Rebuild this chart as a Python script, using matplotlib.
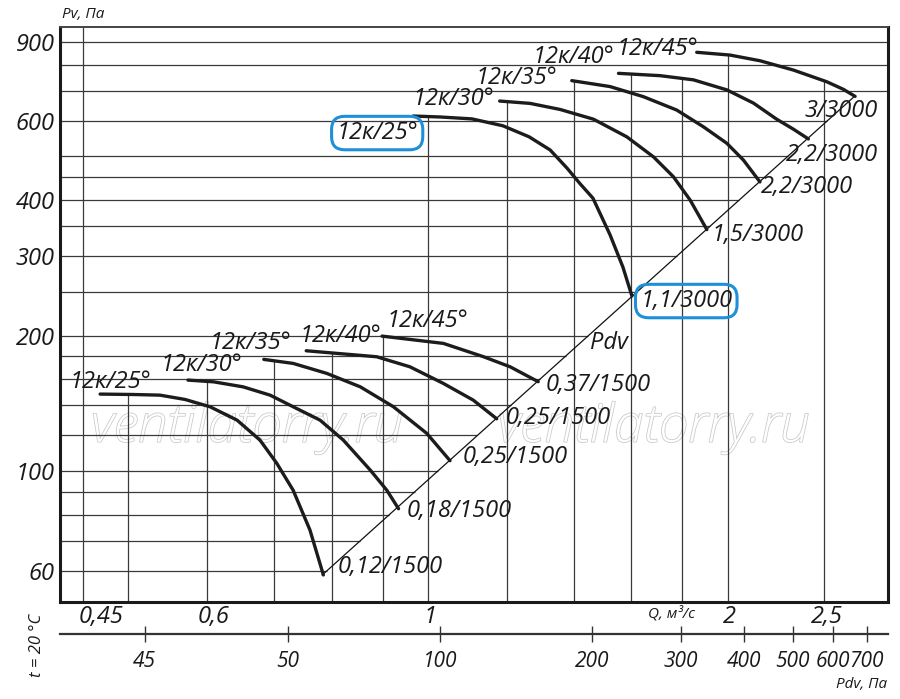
import numpy as np
import matplotlib
matplotlib.use('Agg')
import matplotlib.pyplot as plt
import matplotlib.patheffects as pe
from matplotlib.ticker import NullLocator, FixedLocator

plt.rcParams['font.family'] = ['Open Sans', 'DejaVu Sans']

# ---------------- data ----------------
# high speed group (3000 rpm): Q [m3/s], Pv [Pa]
q_hi_25 = [0.966, 1.028, 1.107, 1.189, 1.263, 1.326, 1.379, 1.421, 1.464, 1.523, 1.569, 1.602]
p_hi_25 = [615, 612, 606, 585, 553, 517, 471, 435, 404, 335, 284, 245]
q_hi_30 = [1.180, 1.266, 1.357, 1.466, 1.583, 1.684, 1.763, 1.833, 1.905]
p_hi_30 = [664, 656, 636, 605, 553, 499, 451, 400, 344]
q_hi_35 = [1.394, 1.523, 1.645, 1.777, 1.890, 1.995, 2.073, 2.154]
p_hi_35 = [737, 715, 679, 634, 582, 535, 491, 439]
q_hi_40 = [1.553, 1.710, 1.847, 1.995, 2.122, 2.239, 2.327, 2.409]
p_hi_40 = [765, 756, 740, 703, 657, 605, 575, 547]
q_hi_45 = [1.861, 2.010, 2.154, 2.327, 2.513, 2.612, 2.684]
p_hi_45 = [852, 840, 816, 778, 733, 705, 680]

# low speed group (1500 rpm)
q_lo_25 = [0.4685, 0.505, 0.538, 0.570, 0.604, 0.643, 0.678, 0.705, 0.732, 0.761, 0.785]
p_lo_25 = [148.3, 148.0, 147.5, 144.3, 139.0, 129.8, 117.2, 104.0, 90.7, 74.0, 58.8]
q_lo_30 = [0.574, 0.609, 0.652, 0.694, 0.732, 0.779, 0.822, 0.875, 0.909, 0.934]
p_lo_30 = [159.3, 157.9, 153.9, 147.5, 139.0, 129.8, 117.2, 100.5, 90.7, 82.5]
q_lo_35 = [0.684, 0.732, 0.791, 0.855, 0.923, 0.997, 1.052]
p_lo_35 = [177.1, 173.5, 164.9, 153.9, 139.0, 121.3, 105.5]
q_lo_40 = [0.7545, 0.888, 0.959, 1.036, 1.110, 1.172]
p_lo_40 = [185.1, 179.5, 170.5, 156.6, 143.8, 130.7]
q_lo_45 = [0.899, 1.036, 1.137, 1.209, 1.290]
p_lo_45 = [199.5, 192.2, 179.5, 170.5, 158.0]

blade_labels = ['12к/25°', '12к/30°', '12к/35°', '12к/40°', '12к/45°']
hi_motor_labels = ['1,1/3000', '1,5/3000', '2,2/3000', '2,2/3000', '3/3000']
lo_motor_labels = ['0,12/1500', '0,18/1500', '0,25/1500', '0,25/1500', '0,37/1500']

# dynamic pressure line (Pdv ~ Q^2)
pdv_line_q = [0.783, 2.684]
pdv_line_p = [58.8, 682]

# axes ticks / grid
y_ticks = [60, 100, 200, 300, 400, 600, 900]
y_tick_labels = ['60', '100', '200', '300', '400', '600', '900']
q_ticks = [0.45, 0.6, 1.0, 2.0, 2.5]
q_tick_labels = ['0,45', '0,6', '1', '2', '2,5']
pdv_ticks = [26, 50, 100, 200, 300, 400, 500, 600, 700]
pdv_tick_labels = ['45', '50', '100', '200', '300', '400', '500', '600', '700']
h_grid = [900, 800, 700, 600, 500, 450, 400, 350, 300, 250, 200, 180, 160,
          140, 120, 100, 90, 80, 70, 60]
v_grid = [0.45, 0.5, 0.6, 0.7, 0.8, 0.9, 1.0, 1.2, 1.4, 1.6, 1.8, 2.0, 2.5]

# ---------------- figure ----------------
W, H = 900, 699
fig = plt.figure(figsize=(W / 100, H / 100), dpi=100)
ax = fig.add_axes([60 / W, 97 / H, 828 / W, 575 / H])
ax.set_xscale('log')
ax.set_yscale('log')
XMIN, XMAX = 0.4270, 2.896
YMIN, YMAX = 51.2, 969.7
ax.set_xlim(XMIN, XMAX)
ax.set_ylim(YMIN, YMAX)

FS = 17
TXT = dict(fontsize=FS, fontstyle='italic', color='#1a1a1a')
BLUE = '#1E8FD8'

curves_hi = [(q_hi_25, p_hi_25), (q_hi_30, p_hi_30), (q_hi_35, p_hi_35),
             (q_hi_40, p_hi_40), (q_hi_45, p_hi_45)]
curves_lo = [(q_lo_25, p_lo_25), (q_lo_30, p_lo_30), (q_lo_35, p_lo_35),
             (q_lo_40, p_lo_40), (q_lo_45, p_lo_45)]
all_curves = curves_hi + curves_lo


def diag_q(p):
    lq = np.log10(pdv_line_q)
    lp = np.log10(pdv_line_p)
    t = (np.log10(p) - lp[0]) / (lp[1] - lp[0])
    return 10 ** (lq[0] + t * (lq[1] - lq[0]))


def envelope(q):
    vals = []
    for qc, pc in all_curves:
        if qc[0] <= q <= qc[-1]:
            vals.append(10 ** np.interp(np.log10(q), np.log10(qc), np.log10(pc)))
    return max(vals) if vals else YMAX


GRID = dict(color='#3a3a3a', lw=0.9, zorder=1, solid_capstyle='butt')
for p in h_grid:
    xe = diag_q(p) if p <= pdv_line_p[1] else XMAX
    ax.plot([XMIN, min(xe, XMAX)], [p, p], **GRID)
for q in v_grid:
    ax.plot([q, q], [YMIN, envelope(q)], **GRID)

# watermark
for xf in (0.226, 0.717):
    ax.text(xf, 0.303, 'ventilatorry.ru', transform=ax.transAxes, ha='center',
            va='center', fontsize=38, fontstyle='italic', fontweight='light',
            color='white', zorder=0.5,
            path_effects=[pe.withStroke(linewidth=1.1, foreground='#c8c8c8')])

# Pdv line
ax.plot(pdv_line_q, pdv_line_p, color='#111111', lw=0.9, zorder=2)

# curves
for qc, pc in all_curves:
    ax.plot(qc, pc, color='#1c1c1c', lw=2.4, zorder=3, solid_capstyle='round',
            solid_joinstyle='round')

# blade labels
hi_lab_q = [0.889, 1.0595, 1.228, 1.401, 1.698]
hi_lab_p = [563.7, 670.9, 747.0, 831.8, 866.6]
lo_lab_q = [0.4794, 0.5917, 0.6627, 0.8159, 0.9977]
lo_lab_p = [157.7, 172.0, 192.5, 199.5, 215.4]
BOX = dict(boxstyle='round,pad=0.2,rounding_size=0.55', fc='none', ec=BLUE, lw=2.2)
for i, t in enumerate(blade_labels):
    kw = {'bbox': BOX} if i == 0 else {}
    ax.text(hi_lab_q[i], hi_lab_p[i], t, ha='center', va='center', zorder=4, **TXT, **kw)
    ax.text(lo_lab_q[i], lo_lab_p[i], t, ha='center', va='center', zorder=4, **TXT)

hi_end_q = [1.633, 1.924, 2.160, 2.288, 2.390]
hi_end_p = [238.7, 334.6, 427.7, 503.9, 631.0]
lo_end_q = [0.8121, 0.9526, 1.084, 1.195, 1.311]
lo_end_p = [61.2, 81.5, 107.4, 131.2, 155.3]
for i, t in enumerate(hi_motor_labels):
    kw = {'bbox': BOX} if i == 0 else {}
    ax.text(hi_end_q[i], hi_end_p[i], t, ha='left', va='center', zorder=4, **TXT, **kw)
for i, t in enumerate(lo_motor_labels):
    ax.text(lo_end_q[i], lo_end_p[i], t, ha='left', va='center', zorder=4, **TXT)
ax.text(1.454, 192.5, 'Pdv', ha='left', va='center', zorder=4, **TXT)

# spines
for s, lw, c in (('left', 2.2, '#1a1a1a'), ('bottom', 2.2, '#1a1a1a'),
                 ('right', 2.2, '#1a1a1a'), ('top', 1.4, '#444444')):
    ax.spines[s].set_linewidth(lw)
    ax.spines[s].set_color(c)

# y ticks
ax.yaxis.set_major_locator(FixedLocator(y_ticks))
ax.yaxis.set_minor_locator(NullLocator())
ax.set_yticklabels(y_tick_labels, fontsize=FS, fontstyle='italic', color='#1a1a1a')
ax.tick_params(axis='y', length=0, pad=4)

# Q tick labels
ax.xaxis.set_major_locator(NullLocator())
ax.xaxis.set_minor_locator(NullLocator())
q_lab_dx = [18, 6, 2, 2, 2.5]
for q, lab, dx in zip(q_ticks, q_tick_labels, q_lab_dx):
    ax.annotate(lab, xy=(q, 0), xycoords=('data', 'axes fraction'),
                xytext=(dx * 0.72, -2), textcoords='offset points',
                ha='center', va='top', **TXT)
ax.annotate('Q, м³/с', xy=(0.739, 0), xycoords='axes fraction', xytext=(0, -3),
            textcoords='offset points', ha='center', va='top', fontsize=11,
            fontstyle='italic', color='#1a1a1a')

# Pdv axis
axp = fig.add_axes([60 / W, (H - 634) / H, 828 / W, 0.0001])
axp.set_xscale('log')
axp.set_xlim(17.68, 771.4)
axp.patch.set_visible(False)
for s in ('top', 'left', 'right'):
    axp.spines[s].set_visible(False)
axp.spines['bottom'].set_linewidth(1.6)
axp.spines['bottom'].set_color('#333333')
axp.set_yticks([])
axp.xaxis.set_major_locator(FixedLocator(pdv_ticks))
axp.xaxis.set_minor_locator(NullLocator())
axp.set_xticklabels(pdv_tick_labels, fontsize=15, fontstyle='italic', color='#1a1a1a')
axp.tick_params(axis='x', direction='inout', length=11, width=1.0, color='#333333', pad=7)

fig.text(62 / W, 1 - 15 / H, 'Pv, Па', ha='left', va='center', fontsize=11,
         fontstyle='italic', color='#1a1a1a')
fig.text(887 / W, 1 - 684 / H, 'Pdv, Па', ha='right', va='center', fontsize=11,
         fontstyle='italic', color='#1a1a1a')
fig.text(37 / W, 1 - 645 / H, 't = 20 °C', ha='center', va='center', rotation=90,
         fontsize=12, fontstyle='italic', color='#1a1a1a')

fig.savefig('out.png', dpi=100, facecolor='white')
